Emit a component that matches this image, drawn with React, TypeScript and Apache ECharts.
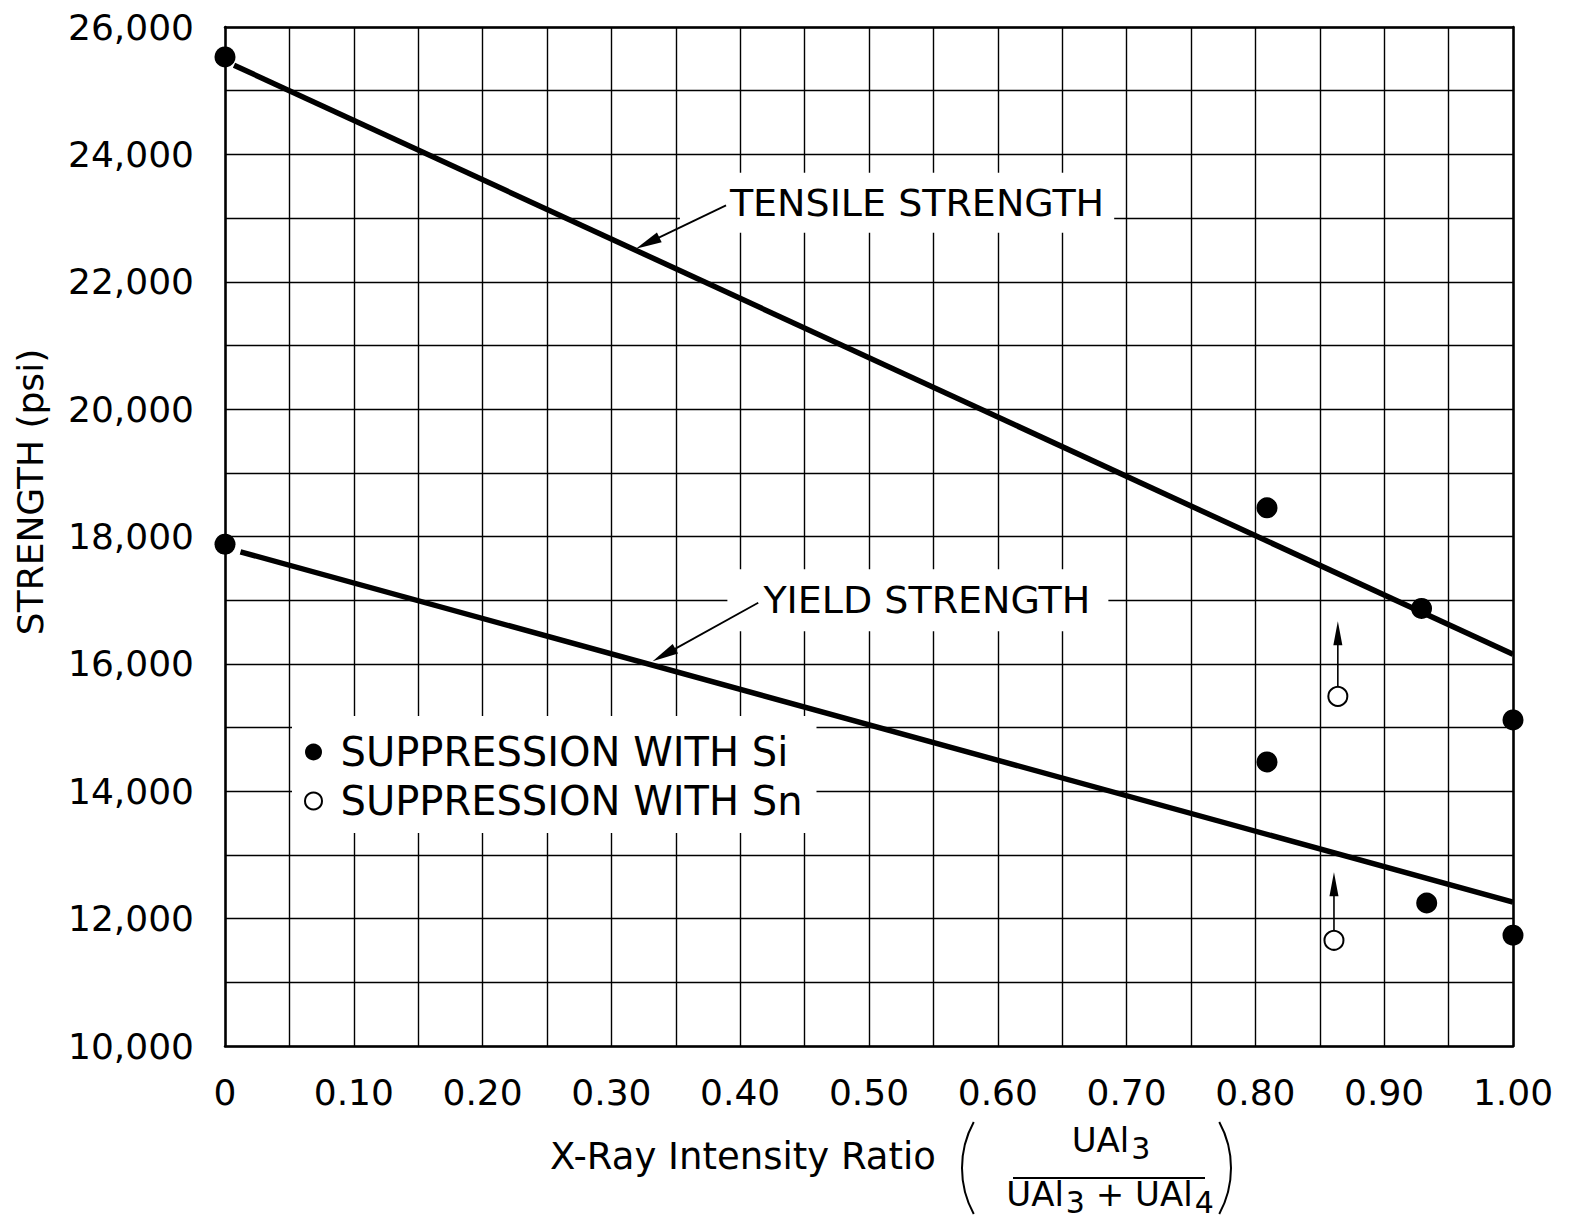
import React, { useEffect, useRef } from 'react';
import * as echarts from 'echarts';

// ---- axes ----
const X_MIN = 0;
const X_MAX = 1;
const X_STEP = 0.05;
const Y_MIN = 10000;
const Y_MAX = 26000;
const Y_STEP = 1000;

// ---- fitted lines (end points) ----
const tensileX = [0.007, 1.0];
const tensileY = [25400, 16150];
const yieldX = [0.012, 1.0];
const yieldY = [17760, 12260];

// ---- measured points ----
const siX = [0, 0, 0.809, 0.809, 0.929, 0.933, 1.0, 1.0];
const siY = [25530, 17880, 18450, 14460, 16870, 12245, 15120, 11740];

const snX = [0.864, 0.861];
const snY = [15490, 11660];
// arrows rising from the Sn points
const snArrowFromY = [15650, 11820];
const snArrowToY = [16670, 12730];

// ---- texts ----
const X_NAME = 'X-Ray Intensity Ratio';
const Y_NAME = 'STRENGTH (psi)';
const SI_NAME = 'SUPPRESSION WITH Si';
const SN_NAME = 'SUPPRESSION WITH Sn';
const TENSILE_NAME = 'TENSILE STRENGTH';
const YIELD_NAME = 'YIELD STRENGTH';

// annotation anchors in data coordinates
const annText = [TENSILE_NAME, YIELD_NAME];
const annTextAt = [
  [0.392, 23240],
  [0.418, 17000],
];
const annArrowFrom = [
  [0.389, 23200],
  [0.414, 16960],
];
const annArrowTo = [
  [0.319, 22520],
  [0.332, 16040],
];

const FONT = 'DejaVu Sans';
const INK = '#000';

const xLabel = (v: number) => {
  const k = Math.round(v * 100);
  if (k % 10 !== 0) return '';
  return k === 0 ? '0' : (k / 100).toFixed(2);
};
const yLabel = (v: number) =>
  Math.round(v) % 2000 === 0 ? Math.round(v).toLocaleString('en-US') : '';

function arrow(from: number[], to: number[], L: number, W: number, lw: number, z: number) {
  const dx = to[0] - from[0];
  const dy = to[1] - from[1];
  const len = Math.hypot(dx, dy);
  const ux = dx / len;
  const uy = dy / len;
  const bx = to[0] - ux * L;
  const by = to[1] - uy * L;
  return [
    {
      type: 'line',
      z,
      shape: { x1: from[0], y1: from[1], x2: bx + ux * 4, y2: by + uy * 4 },
      style: { stroke: INK, lineWidth: lw },
    },
    {
      type: 'polygon',
      z,
      shape: {
        points: [
          [to[0], to[1]],
          [bx - uy * (W / 2), by + ux * (W / 2)],
          [bx + uy * (W / 2), by - ux * (W / 2)],
        ],
      },
      style: { fill: INK },
    },
  ];
}

export default function App() {
  const ref = useRef<HTMLDivElement>(null);

  useEffect(() => {
    document.body.style.margin = '0';
    const chart = echarts.init(ref.current!, null, { renderer: 'svg' });

    const frameAxis = {
      axisLine: { show: true, onZero: false, lineStyle: { color: INK, width: 2.5 } },
      axisTick: { show: false },
      axisLabel: { show: false },
      splitLine: { show: false },
    };

    const option: any = {
      animation: false,
      backgroundColor: '#fff',
      grid: { left: 225, top: 27, width: 1288, height: 1019 },
      xAxis: [
        {
          type: 'value',
          min: X_MIN,
          max: X_MAX,
          interval: X_STEP,
          position: 'bottom',
          axisLine: { show: true, onZero: false, lineStyle: { color: INK, width: 2.5 } },
          axisTick: { show: false },
          splitLine: { show: true, lineStyle: { color: INK, width: 1.4 } },
          axisLabel: {
            margin: 28,
            fontFamily: FONT,
            fontSize: 36,
            color: INK,
            formatter: xLabel,
          },
        },
        { type: 'value', min: X_MIN, max: X_MAX, interval: X_STEP, position: 'top', ...frameAxis },
      ],
      yAxis: [
        {
          type: 'value',
          min: Y_MIN,
          max: Y_MAX,
          interval: Y_STEP,
          position: 'left',
          axisLine: { show: true, onZero: false, lineStyle: { color: INK, width: 2.5 } },
          axisTick: { show: false },
          splitLine: { show: true, lineStyle: { color: INK, width: 1.4 } },
          axisLabel: {
            margin: 31,
            fontFamily: FONT,
            fontSize: 36,
            color: INK,
            formatter: yLabel,
          },
        },
        { type: 'value', min: Y_MIN, max: Y_MAX, interval: Y_STEP, position: 'right', ...frameAxis },
      ],
      legend: {
        data: [
          { name: SI_NAME, icon: 'circle' },
          { name: SN_NAME, icon: 'circle' },
        ],
        orient: 'vertical',
        left: 292,
        top: 716,
        backgroundColor: '#fff',
        padding: [16, 14, 12, 12],
        itemWidth: 44,
        itemHeight: 17,
        itemGap: 9,
        selectedMode: false,
        textStyle: { fontFamily: FONT, fontSize: 40, color: INK },
      },
      series: [
        {
          name: TENSILE_NAME,
          type: 'line',
          data: tensileX.map((x, i) => [x, tensileY[i]]),
          symbol: 'none',
          lineStyle: { color: INK, width: 5.5 },
          z: 3,
        },
        {
          name: YIELD_NAME,
          type: 'line',
          data: yieldX.map((x, i) => [x, yieldY[i]]),
          symbol: 'none',
          lineStyle: { color: INK, width: 5.5 },
          z: 3,
        },
        {
          name: SI_NAME,
          type: 'scatter',
          data: siX.map((x, i) => [x, siY[i]]),
          symbol: 'circle',
          symbolSize: 21,
          itemStyle: { color: INK, opacity: 1 },
          z: 5,
        },
        {
          name: SN_NAME,
          type: 'scatter',
          data: snX.map((x, i) => [x, snY[i]]),
          symbol: 'circle',
          symbolSize: 19,
          itemStyle: { color: '#fff', borderColor: INK, borderWidth: 2, opacity: 1 },
          z: 5,
        },
      ],
    };

    chart.setOption(option);

    const px = (p: number[]) => chart.convertToPixel({ gridIndex: 0 }, p) as number[];

    const graphics: any[] = [];
    annText.forEach((t, i) => {
      const at = px(annTextAt[i]);
      const pad = i === 0 ? [10, 10, 12, 50] : [12, 18, 12, 36];
      graphics.push({
        type: 'text',
        x: at[0] - pad[3],
        y: at[1],
        z: 5,
        style: {
          text: t,
          font: `38px "${FONT}"`,
          fill: INK,
          align: 'left',
          verticalAlign: 'middle',
          textAlign: 'left',
          textVerticalAlign: 'middle',
          backgroundColor: '#fff',
          padding: pad,
        },
      });
      graphics.push(...arrow(px(annArrowFrom[i]), px(annArrowTo[i]), 26, 11, 1.8, 6));
    });

    // arrows rising from the Sn points
    snX.forEach((x, i) => {
      graphics.push(...arrow(px([x, snArrowFromY[i]]), px([x, snArrowToY[i]]), 24, 9, 1.6, 6));
    });

    // y axis name
    graphics.push({
      type: 'text',
      x: 30,
      y: 492,
      rotation: Math.PI / 2,
      z: 5,
      style: {
        text: Y_NAME,
        font: `36px "${FONT}"`,
        fill: INK,
        align: 'center',
        verticalAlign: 'middle',
        textAlign: 'center',
        textVerticalAlign: 'middle',
      },
    });

    // x axis name with fraction
    graphics.push({
      type: 'text',
      x: 550,
      y: 1156,
      z: 5,
      style: {
        text: X_NAME,
        font: `37px "${FONT}"`,
        fill: INK,
        align: 'left',
        verticalAlign: 'middle',
        textAlign: 'left',
        textVerticalAlign: 'middle',
      },
    });
    const rich = { s: { fontSize: 30, fontFamily: FONT, fill: INK, padding: [16, 0, 0, 2] } };
    graphics.push({
      type: 'text',
      x: 1111,
      y: 1140,
      z: 5,
      style: {
        text: 'UAl{s|3}',
        font: `34px "${FONT}"`,
        fill: INK,
        rich,
        align: 'center',
        verticalAlign: 'middle',
        textAlign: 'center',
        textVerticalAlign: 'middle',
      },
    });
    graphics.push({
      type: 'line',
      z: 5,
      shape: { x1: 1013, y1: 1178, x2: 1205, y2: 1178 },
      style: { stroke: INK, lineWidth: 2.2 },
    });
    graphics.push({
      type: 'text',
      x: 1110,
      y: 1194,
      z: 5,
      style: {
        text: 'UAl{s|3} + UAl{s|4}',
        font: `34px "${FONT}"`,
        fill: INK,
        rich,
        align: 'center',
        verticalAlign: 'middle',
        textAlign: 'center',
        textVerticalAlign: 'middle',
      },
    });
    graphics.push({
      type: 'arc',
      z: 5,
      shape: { cx: 1058, cy: 1168, r: 96, startAngle: Math.PI - 0.5, endAngle: Math.PI + 0.5, clockwise: true },
      style: { stroke: INK, fill: 'none', lineWidth: 2 },
    });
    graphics.push({
      type: 'arc',
      z: 5,
      shape: { cx: 1135, cy: 1168, r: 96, startAngle: -0.5, endAngle: 0.5, clockwise: true },
      style: { stroke: INK, fill: 'none', lineWidth: 2 },
    });

    chart.setOption({ graphic: { elements: graphics } });

    return () => chart.dispose();
  }, []);

  return (
    <div
      ref={ref}
      style={{ position: 'fixed', left: 0, top: 0, width: 1588, height: 1218, background: '#fff' }}
    />
  );
}
